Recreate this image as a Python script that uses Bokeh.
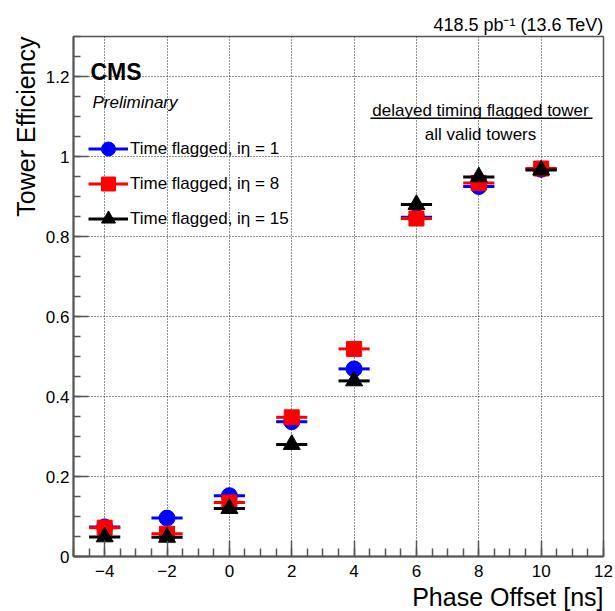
import math
from bokeh.plotting import figure
from bokeh.models import (FixedTicker, Label, Legend, LegendItem, BoxAnnotation,
                          ColumnDataSource, Range1d, Title)
from bokeh.embed import file_html
from bokeh.resources import INLINE

# ---- data ----
phase = [-4, -2, 0, 2, 4, 6, 8, 10]
half_width = [0.5, 0.5, 0.5, 0.5, 0.5, 0.5, 0.5, 0.5]
eff_eta1 = [0.074, 0.096, 0.152, 0.337, 0.469, 0.848, 0.925, 0.968]
eff_eta8 = [0.072, 0.057, 0.135, 0.348, 0.519, 0.845, 0.934, 0.970]
eff_eta15 = [0.049, 0.048, 0.120, 0.280, 0.439, 0.880, 0.949, 0.966]

x_major = [-4, -2, 0, 2, 4, 6, 8, 10, 12]
x_labels = {-4: "\u22124", -2: "\u22122", 0: "0", 2: "2", 4: "4", 6: "6", 8: "8", 10: "10", 12: "12"}
y_major = [0, 0.2, 0.4, 0.6, 0.8, 1.0, 1.2]
y_labels = {0: "0", 0.2: "0.2", 0.4: "0.4", 0.6: "0.6", 0.8: "0.8", 1.0: "1", 1.2: "1.2"}

FONT = "Liberation Sans"

p = figure(width=615, height=611, output_backend="svg", toolbar_location=None,
           x_range=Range1d(-5, 12), y_range=Range1d(0, 1.3),
           min_border_left=73, min_border_right=12, min_border_top=36, min_border_bottom=55)
p.background_fill_color = "white"
p.border_fill_color = "white"
p.outline_line_color = "#555555"
p.outline_line_width = 1.5

# top-right luminosity title
p.title.text = "418.5 pb\u207b\u00b9 (13.6 TeV)"
p.title.align = "right"
p.title.text_font = FONT
p.title.text_font_size = "18px"
p.title.text_font_style = "normal"
p.title.text_color = "black"
p.title.standoff = 3

# axis titles as side titles
p.add_layout(Title(text="Tower Efficiency", align="right", text_font=FONT,
                   text_font_size="25px", text_font_style="normal", text_color="black",
                   standoff=6), "left")
p.add_layout(Title(text="Phase Offset [ns]", align="right", text_font=FONT,
                   text_font_size="25px", text_font_style="normal", text_color="black",
                   standoff=2), "below")

# ticks
p.xaxis.ticker = FixedTicker(ticks=x_major, minor_ticks=[-5 + 0.5 * i for i in range(35)])
p.yaxis.ticker = FixedTicker(ticks=y_major, minor_ticks=[0.05 * i for i in range(27)])
p.xaxis.major_label_overrides = x_labels
p.yaxis.major_label_overrides = y_labels
for ax in (p.xaxis, p.yaxis):
    ax.axis_line_color = "#555555"
    ax.axis_line_width = 2
    ax.major_tick_line_color = "#555555"
    ax.minor_tick_line_color = "#555555"
    ax.major_tick_line_width = 1.5
    ax.minor_tick_line_width = 1.5
    ax.major_tick_out = 0
    ax.minor_tick_out = 0
    ax.major_label_text_font = FONT
    ax.major_label_text_font_size = "17px"
    ax.major_label_text_color = "black"
p.xaxis.major_tick_in = 16
p.xaxis.minor_tick_in = 8
p.yaxis.major_tick_in = 15
p.yaxis.minor_tick_in = 7
p.xaxis.major_label_standoff = 8
p.yaxis.major_label_standoff = 4

# grid
for g in (p.xgrid, p.ygrid):
    g.grid_line_color = "#222222"
    g.grid_line_dash = "1 2"
    g.grid_line_width = 1
p.xgrid.ticker = FixedTicker(ticks=x_major)
p.ygrid.ticker = FixedTicker(ticks=y_major)

series = [
    ("Time flagged, i\u03b7 = 1", eff_eta1, "#0000ff", "circle", 16),
    ("Time flagged, i\u03b7 = 8", eff_eta8, "#ff0000", "square", 15),
    ("Time flagged, i\u03b7 = 15", eff_eta15, "black", "triangle", 17),
]
items = []
for name, vals, col, mk, sz in series:
    src = ColumnDataSource(dict(
        x=phase, y=vals,
        x0=[a - w for a, w in zip(phase, half_width)],
        x1=[a + w for a, w in zip(phase, half_width)]))
    seg = p.segment(x0="x0", y0="y", x1="x1", y1="y", source=src, line_color=col, line_width=3)
    sc = p.scatter(x="x", y="y", source=src, marker=mk, size=sz, fill_color=col, line_color=col)
    items.append(LegendItem(label=name, renderers=[seg, sc]))

legend = Legend(items=items, location=(15, 320), orientation="vertical",
                glyph_width=40, glyph_height=35, spacing=0, padding=0, margin=0,
                label_standoff=2, label_text_font=FONT, label_text_font_size="17px",
                label_text_color="black",
                label_height=20, border_line_color=None, background_fill_alpha=0)
p.add_layout(legend, "center")

def lab(text, x, y, size, align="left", baseline="alphabetic", style="normal"):
    p.add_layout(Label(x=x, y=y, x_units="screen", y_units="screen", text=text,
                       text_font=FONT, text_font_size=size, text_align=align,
                       text_baseline=baseline, text_font_style=style,
                       text_color="black"))

lab("CMS", 17, 485, "23px", style="bold")
lab("Preliminary", 19, 454, "17px", style="italic")
lab("delayed timing flagged tower", 407, 446, "17px", align="center")
lab("all valid towers", 407, 422, "17px", align="center")

p.add_layout(BoxAnnotation(left=297, right=519, bottom=437.5, top=439,
                           left_units="screen", right_units="screen",
                           bottom_units="screen", top_units="screen",
                           fill_color="black", fill_alpha=1, line_color=None))

open("out.html", "w").write(file_html(p, INLINE))
